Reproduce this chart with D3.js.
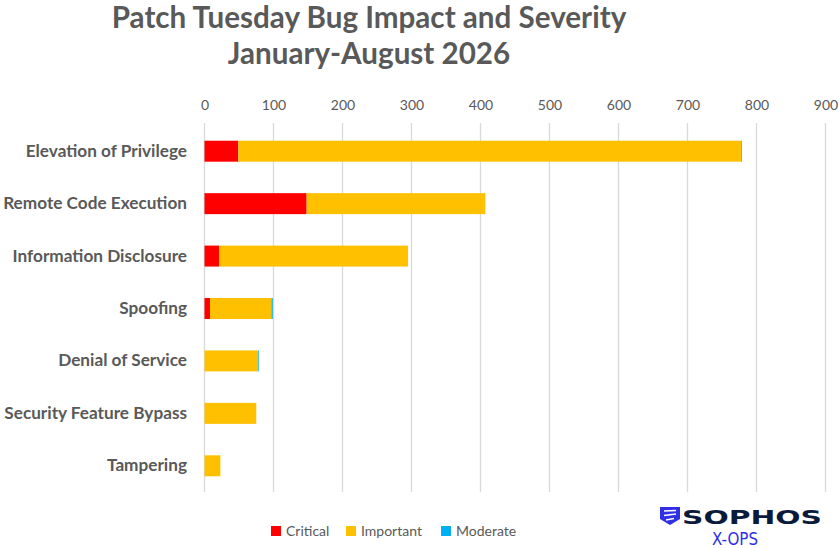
<!DOCTYPE html>
<html><head><meta charset="utf-8">
<script src="https://cdn.jsdelivr.net/npm/d3@7"></script>
<style>
body{margin:0;background:#fff;}
svg{display:block;font-family:Lato,"Open Sans",sans-serif;}
</style></head>
<body><svg id="c" width="839" height="548"></svg>
<script>
const categories = ["Elevation of Privilege","Remote Code Execution","Information Disclosure","Spoofing","Denial of Service","Security Feature Bypass","Tampering"];
const seriesNames = ["Critical","Important","Moderate"];
const critical = [49,148,21,8,0,0,0];
const important = [729,259,274,89,78,75,23];
const moderate = [1,0,0,2,1,0,0];
const xTicks = [0,100,200,300,400,500,600,700,800,900];
const colors = ["#ff0000","#ffc000","#00b0f0"];

const svg = d3.select("#c");
const x = d3.scaleLinear().domain([0,900]).range([204.5,825.5]);
const y = d3.scaleBand().domain(categories).range([125,492]).paddingInner(0.6).paddingOuter(0.3);

// title
svg.append("text").attr("x",369).attr("y",28).attr("text-anchor","middle")
  .attr("font-size",29.6).attr("font-weight","bold").attr("fill","#595959").text("Patch Tuesday Bug Impact and Severity");
svg.append("text").attr("x",369).attr("y",64).attr("text-anchor","middle")
  .attr("font-size",29.6).attr("font-weight","bold").attr("fill","#595959").text("January-August 2026");

// gridlines
svg.append("g").selectAll("line").data(xTicks).join("line")
  .attr("x1",d=>x(d)).attr("x2",d=>x(d)).attr("y1",123).attr("y2",492)
  .attr("stroke","#d9d9d9").attr("stroke-width",1.3);

// top axis labels
const ax = svg.append("g").attr("transform","translate(0,110)")
  .call(d3.axisTop(x).tickValues(xTicks).tickSize(0).tickPadding(0));
ax.select(".domain").remove();
ax.selectAll("text").attr("font-size",14).attr("fill","#595959").attr("font-family","Lato,'Open Sans',sans-serif");

// stacked bars
const data = categories.map((c,i)=>({cat:c,Critical:critical[i],Important:important[i],Moderate:moderate[i]}));
const stack = d3.stack().keys(seriesNames)(data);
svg.append("g").selectAll("g").data(stack).join("g").attr("fill",(d,i)=>colors[i])
  .selectAll("rect").data(d=>d).join("rect")
  .attr("x",d=>x(d[0])).attr("width",d=>x(d[1])-x(d[0]))
  .attr("y",d=>y(d.data.cat)).attr("height",y.bandwidth());

// category labels
const ay = svg.append("g").attr("transform","translate(187,0)")
  .call(d3.axisLeft(y).tickSize(0).tickPadding(0));
ay.select(".domain").remove();
ay.selectAll("text").attr("font-size",17.2).attr("font-weight","bold").attr("fill","#595959").attr("font-family","Lato,'Open Sans',sans-serif");

// legend
const legX = [271,346,441];
const lg = svg.append("g").selectAll("g").data(seriesNames).join("g")
  .attr("transform",(d,i)=>`translate(${legX[i]},526)`);
lg.append("rect").attr("width",10).attr("height",10).attr("fill",(d,i)=>colors[i]);
lg.append("text").attr("x",15).attr("y",10).attr("font-size",14).attr("fill","#595959").text(d=>d);

// logo
const logo = svg.append("g");
logo.append("path").attr("d","M660,507 L680,507 L680,519 L670,525 L660,519 Z").attr("fill","#2f30e5");
logo.append("path").attr("d","M664,511 L676,510.5 M664,515.5 L676,514 M666,520 L674,518.5").attr("stroke","#fff").attr("stroke-width",1.5);
logo.append("text").attr("x",682).attr("y",524).attr("font-family","'DejaVu Sans',sans-serif").attr("font-weight","bold")
  .attr("font-size",19.5).attr("fill","#0a1a3c").attr("textLength",140).attr("lengthAdjust","spacingAndGlyphs").text("SOPHOS");
logo.append("text").attr("x",712).attr("y",545).attr("font-family","'DejaVu Sans',sans-serif")
  .attr("font-size",17).attr("fill","#2f30e5").attr("textLength",46).attr("lengthAdjust","spacingAndGlyphs").text("X-OPS");
</script></body></html>
